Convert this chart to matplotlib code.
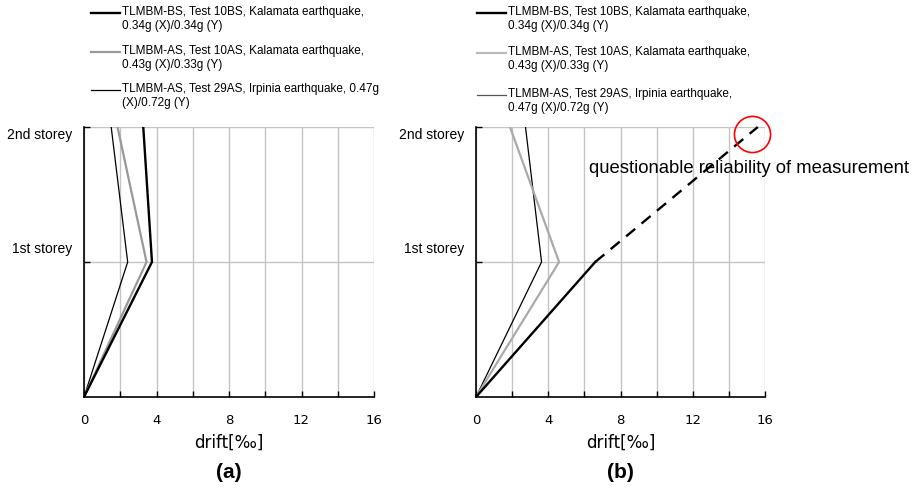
import matplotlib.pyplot as plt
from matplotlib.lines import Line2D

# storey levels (ground, 1st, 2nd)
levels = [0, 1, 2]
level_labels = ['1st storey', '2nd storey']

# drift values [permil]
bs_a = [0, 3.75, 3.27]      # TLMBM-BS, Test 10BS
as10_a = [0, 3.45, 1.85]    # TLMBM-AS, Test 10AS
as29_a = [0, 2.41, 1.50]    # TLMBM-AS, Test 29AS

bs_b = [0, 6.6, 15.6]
as10_b = [0, 4.6, 1.88]
as29_b = [0, 3.63, 2.74]

# questionable point in (b)
circle_x, circle_y = 15.3, 1.95

labels_a = ['TLMBM-BS, Test 10BS, Kalamata earthquake,\n0.34g (X)/0.34g (Y)',
            'TLMBM-AS, Test 10AS, Kalamata earthquake,\n0.43g (X)/0.33g (Y)',
            'TLMBM-AS, Test 29AS, Irpinia earthquake, 0.47g\n(X)/0.72g (Y)']
labels_b = ['TLMBM-BS, Test 10BS, Kalamata earthquake,\n0.34g (X)/0.34g (Y)',
            'TLMBM-AS, Test 10AS, Kalamata earthquake,\n0.43g (X)/0.33g (Y)',
            'TLMBM-AS, Test 29AS, Irpinia earthquake,\n0.47g (X)/0.72g (Y)']

W, H = 918, 488
fig = plt.figure(figsize=(W / 100, H / 100), dpi=100)
plt.rcParams['font.family'] = ['Liberation Sans', 'DejaVu Sans']
cond = ['DejaVu Sans']


def setup(ax, tag):
    ax.set_xlim(0, 16)
    ax.set_ylim(0, 2)
    ax.set_xticks(range(0, 17, 2))
    ax.set_xticklabels([str(v) if v % 4 == 0 else '' for v in range(0, 17, 2)],
                       family=cond, fontsize=9.5)
    ax.set_yticks([1, 2])
    ax.set_yticklabels([])
    ax.tick_params(direction='in', length=4, width=1, color='black', pad=12)
    ax.grid(True, color='#c4c4c4', lw=1)
    ax.set_axisbelow(True)
    for s in ['top', 'right']:
        ax.spines[s].set_visible(False)
    for s in ['left', 'bottom']:
        ax.spines[s].set_linewidth(1.2)
    ax.set_xlabel('drift[‰]', family=cond, fontsize=12, labelpad=5)
    ax.text(-0.04, 1.1, level_labels[0], transform=ax.get_yaxis_transform(),
            ha='right', va='center', fontsize=10)
    ax.text(-0.04, 1.94, level_labels[1], transform=ax.get_yaxis_transform(),
            ha='right', va='center', fontsize=10)
    ax.text(0.5, -0.28, tag, transform=ax.transAxes, ha='center', va='center',
            fontsize=15, fontweight='bold')


def legend(x0, ys, labels, colors, widths):
    for y, lab, c, w in zip(ys, labels, colors, widths):
        fig.add_artist(Line2D([x0 / W, (x0 + 29) / W], [1 - y / H, 1 - y / H],
                              color=c, lw=w))
        fig.text((x0 + 31) / W, 1 - (y - 7) / H, lab, fontsize=8.5,
                 va='top', ha='left', linespacing=1.2)


# (a)
ax1 = fig.add_axes([84 / W, 1 - 397 / H, 290 / W, 270 / H])
setup(ax1, '(a)')
ax1.plot(as29_a, levels, color='black', lw=0.9)
ax1.plot(as10_a, levels, color='#999999', lw=1.6)
ax1.plot(bs_a, levels, color='black', lw=1.7)
legend(91, [13, 52, 90], labels_a, ['black', '#999999', 'black'], [1.7, 1.6, 0.9])

# (b)
ax2 = fig.add_axes([476 / W, 1 - 397 / H, 289 / W, 270 / H])
setup(ax2, '(b)')
ax2.plot(as29_b, levels, color='black', lw=0.9)
ax2.plot(as10_b, levels, color='#aaaaaa', lw=1.6)
ax2.plot(bs_b[:2], levels[:2], color='black', lw=1.7)
ax2.plot(bs_b[1:], levels[1:], color='black', lw=1.7, ls=(0, (5, 3.5)), clip_on=False)
ax2.plot([circle_x], [circle_y], 'o', mfc='none', mec='red', ms=26, mew=1.2, clip_on=False)
ax2.text(6.25, 1.69, 'questionable reliability of measurement', fontsize=13.3,
         ha='left', va='center')
legend(477, [13, 53, 95], labels_b, ['black', '#bbbbbb', '#555555'], [1.7, 1.6, 0.9])

fig.savefig('out.png', dpi=100)
